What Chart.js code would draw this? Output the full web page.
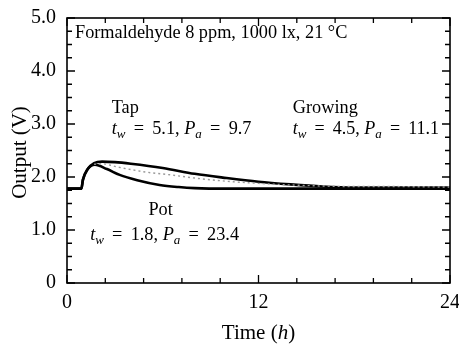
<!DOCTYPE html>
<html>
<head>
<meta charset="utf-8">
<script src="https://cdn.jsdelivr.net/npm/chart.js@4/dist/chart.umd.min.js"></script>
<style>
html,body{margin:0;padding:0;background:#fff;}
#wrap{width:459px;height:347px;position:relative;}
</style>
</head>
<body>
<div id="wrap"><canvas id="c" width="459" height="347"></canvas></div>
<script>
// ---- data ----
const tapTime = [0, 0.9, 1.0, 1.3, 1.7, 2.2, 3, 4, 6, 8, 10, 12, 14, 16, 18, 20, 22, 24];
const tapOut  = [1.78, 1.78, 1.95, 2.15, 2.26, 2.29, 2.28, 2.25, 2.17, 2.06, 1.98, 1.91, 1.86, 1.82, 1.80, 1.80, 1.80, 1.80];

const growTime = [1.7, 2.2, 3, 4, 5, 6.5, 8, 10, 12, 14, 16, 18, 20, 24];
const growOut  = [2.24, 2.25, 2.20, 2.14, 2.09, 2.04, 1.98, 1.92, 1.88, 1.85, 1.83, 1.82, 1.82, 1.81];

const potTime = [0, 0.9, 1.0, 1.25, 1.75, 2.5, 3.3, 4.4, 5.8, 7, 8, 10, 12, 16, 20, 24];
const potOut  = [1.78, 1.78, 1.95, 2.13, 2.23, 2.15, 2.04, 1.94, 1.85, 1.81, 1.79, 1.78, 1.78, 1.78, 1.78, 1.78];

const yTickValues = [0, 1, 2, 3, 4, 5];
const yTickLabels = ['0', '1.0', '2.0', '3.0', '4.0', '5.0'];
const xTickValues = [0, 12, 24];
const xTickLabels = ['0', '12', '24'];

const headerText = 'Formaldehyde 8 ppm, 1000 lx, 21 \u00B0C';
const seriesNames = ['Tap', 'Growing', 'Pot'];
const seriesTw = ['5.1', '4.5', '1.8'];
const seriesPa = ['9.7', '11.1', '23.4'];

// ---- helpers ----
const pts = (xs, ys) => xs.map((x, i) => ({x: x, y: ys[i]}));
const SERIF = '"Liberation Serif", "DejaVu Serif", serif';

function drawRuns(ctx, x, y, runs, size) {
  let cx = x;
  ctx.textBaseline = 'middle';
  ctx.textAlign = 'left';
  runs.forEach(r => {
    const s = r.sub ? Math.round(size * 0.7) : size;
    ctx.font = (r.italic ? 'italic ' : '') + s + 'px ' + SERIF;
    ctx.fillText(r.t, cx, y + (r.sub ? size * 0.28 : 0));
    cx += ctx.measureText(r.t).width;
  });
}
function paramRuns(tw, pa) {
  return [
    {t: 't', italic: true}, {t: 'w', italic: true, sub: true}, {t: ' \u2009=\u2009 ' + tw + ', '},
    {t: 'P', italic: true}, {t: 'a', italic: true, sub: true}, {t: ' \u2009=\u2009 ' + pa}
  ];
}

// annotation anchors in data units (hours, volts)
const notes = [
  {x: 0.5,  y: 4.72, size: 18.3, runs: [{t: headerText}]},
  {x: 2.8,  y: 3.30, size: 18.3, runs: [{t: seriesNames[0]}]},
  {x: 2.8,  y: 2.90, size: 18.3, runs: paramRuns(seriesTw[0], seriesPa[0])},
  {x: 14.15, y: 3.30, size: 18.3, runs: [{t: seriesNames[1]}]},
  {x: 14.15, y: 2.90, size: 18, runs: paramRuns(seriesTw[1], seriesPa[1])},
  {x: 5.1,  y: 1.38, size: 18.3, runs: [{t: seriesNames[2]}]},
  {x: 1.45, y: 0.90, size: 18.3, runs: paramRuns(seriesTw[2], seriesPa[2])}
];

const framePlugin = {
  id: 'frame',
  afterDraw(chart) {
    const ctx = chart.ctx;
    const a = chart.chartArea;
    const xs = chart.scales.x, ys = chart.scales.y;
    ctx.save();
    ctx.strokeStyle = '#000';
    ctx.fillStyle = '#000';
    // frame
    ctx.lineWidth = 1.6;
    ctx.strokeRect(a.left, a.top, a.right - a.left, a.bottom - a.top);
    // inward ticks
    ctx.lineWidth = 1.3;
    ys.ticks.forEach(t => {
      const p = ys.getPixelForValue(t.value);
      const major = yTickValues.some(v => Math.abs(v - t.value) < 1e-6);
      const len = major ? 8 : 5;
      ctx.beginPath();
      ctx.moveTo(a.left, p); ctx.lineTo(a.left + len, p);
      ctx.moveTo(a.right, p); ctx.lineTo(a.right - len, p);
      ctx.stroke();
    });
    xs.ticks.forEach(t => {
      const p = xs.getPixelForValue(t.value);
      const major = xTickValues.some(v => Math.abs(v - t.value) < 1e-6);
      const len = major ? 8 : 5;
      ctx.beginPath();
      ctx.moveTo(p, a.bottom); ctx.lineTo(p, a.bottom - len);
      ctx.moveTo(p, a.top); ctx.lineTo(p, a.top + len);
      ctx.stroke();
    });
    // annotations
    notes.forEach(n => {
      drawRuns(ctx, xs.getPixelForValue(n.x), ys.getPixelForValue(n.y), n.runs, n.size);
    });
    // axis titles
    const fs = 21;
    ctx.save();
    ctx.translate(20, (a.top + a.bottom) / 2 + 2);
    ctx.rotate(-Math.PI / 2);
    ctx.font = fs + 'px ' + SERIF;
    const w = ctx.measureText('Output (V)').width;
    drawRuns(ctx, -w / 2, 0, [{t: 'Output (V)'}], fs);
    ctx.restore();
    const xr = [{t: 'Time ('}, {t: 'h', italic: true}, {t: ')'}];
    let tw = 0;
    xr.forEach(r => { ctx.font = (r.italic ? 'italic ' : '') + fs + 'px ' + SERIF; tw += ctx.measureText(r.t).width; });
    drawRuns(ctx, (a.left + a.right) / 2 - tw / 2, 333, xr, fs);
    ctx.restore();
  }
};

const lineBase = {
  borderColor: '#000', borderWidth: 2.6, pointRadius: 0, fill: false,
  cubicInterpolationMode: 'monotone'
};

new Chart(document.getElementById('c'), {
  type: 'line',
  data: {
    datasets: [
      Object.assign({label: seriesNames[1], data: pts(growTime, growOut), borderColor: '#9a9a9a', borderWidth: 1.4, borderDash: [2, 3]}, {pointRadius: 0, fill: false, cubicInterpolationMode: 'monotone'}),
      Object.assign({label: seriesNames[0], data: pts(tapTime, tapOut)}, lineBase),
      Object.assign({label: seriesNames[2], data: pts(potTime, potOut)}, lineBase)
    ]
  },
  options: {
    responsive: false,
    animation: false,
    layout: {padding: {top: 18, right: 9, left: 0, bottom: 0}},
    plugins: {legend: {display: false}, tooltip: {enabled: false}},
    scales: {
      x: {
        type: 'linear', min: 0, max: 24,
        grid: {display: false},
        border: {display: false},
        afterFit: s => { s.height = 64; s.paddingRight = 0; s.paddingLeft = 0; },
        ticks: {
          stepSize: 2.4, autoSkip: false, maxRotation: 0, padding: 0,
          color: '#000', font: {family: SERIF, size: 20},
          callback: v => { const i = xTickValues.findIndex(t => Math.abs(t - v) < 1e-6); return i >= 0 ? xTickLabels[i] : ''; }
        }
      },
      y: {
        type: 'linear', min: 0, max: 5,
        grid: {display: false},
        border: {display: false},
        afterFit: s => { s.width = 67; },
        ticks: {
          stepSize: 0.25, autoSkip: false, padding: 3,
          color: '#000', font: {family: SERIF, size: 20},
          callback: v => { const i = yTickValues.findIndex(t => Math.abs(t - v) < 1e-6); return i >= 0 ? yTickLabels[i] : ''; }
        }
      }
    }
  },
  plugins: [framePlugin]
});
</script>
</body>
</html>
